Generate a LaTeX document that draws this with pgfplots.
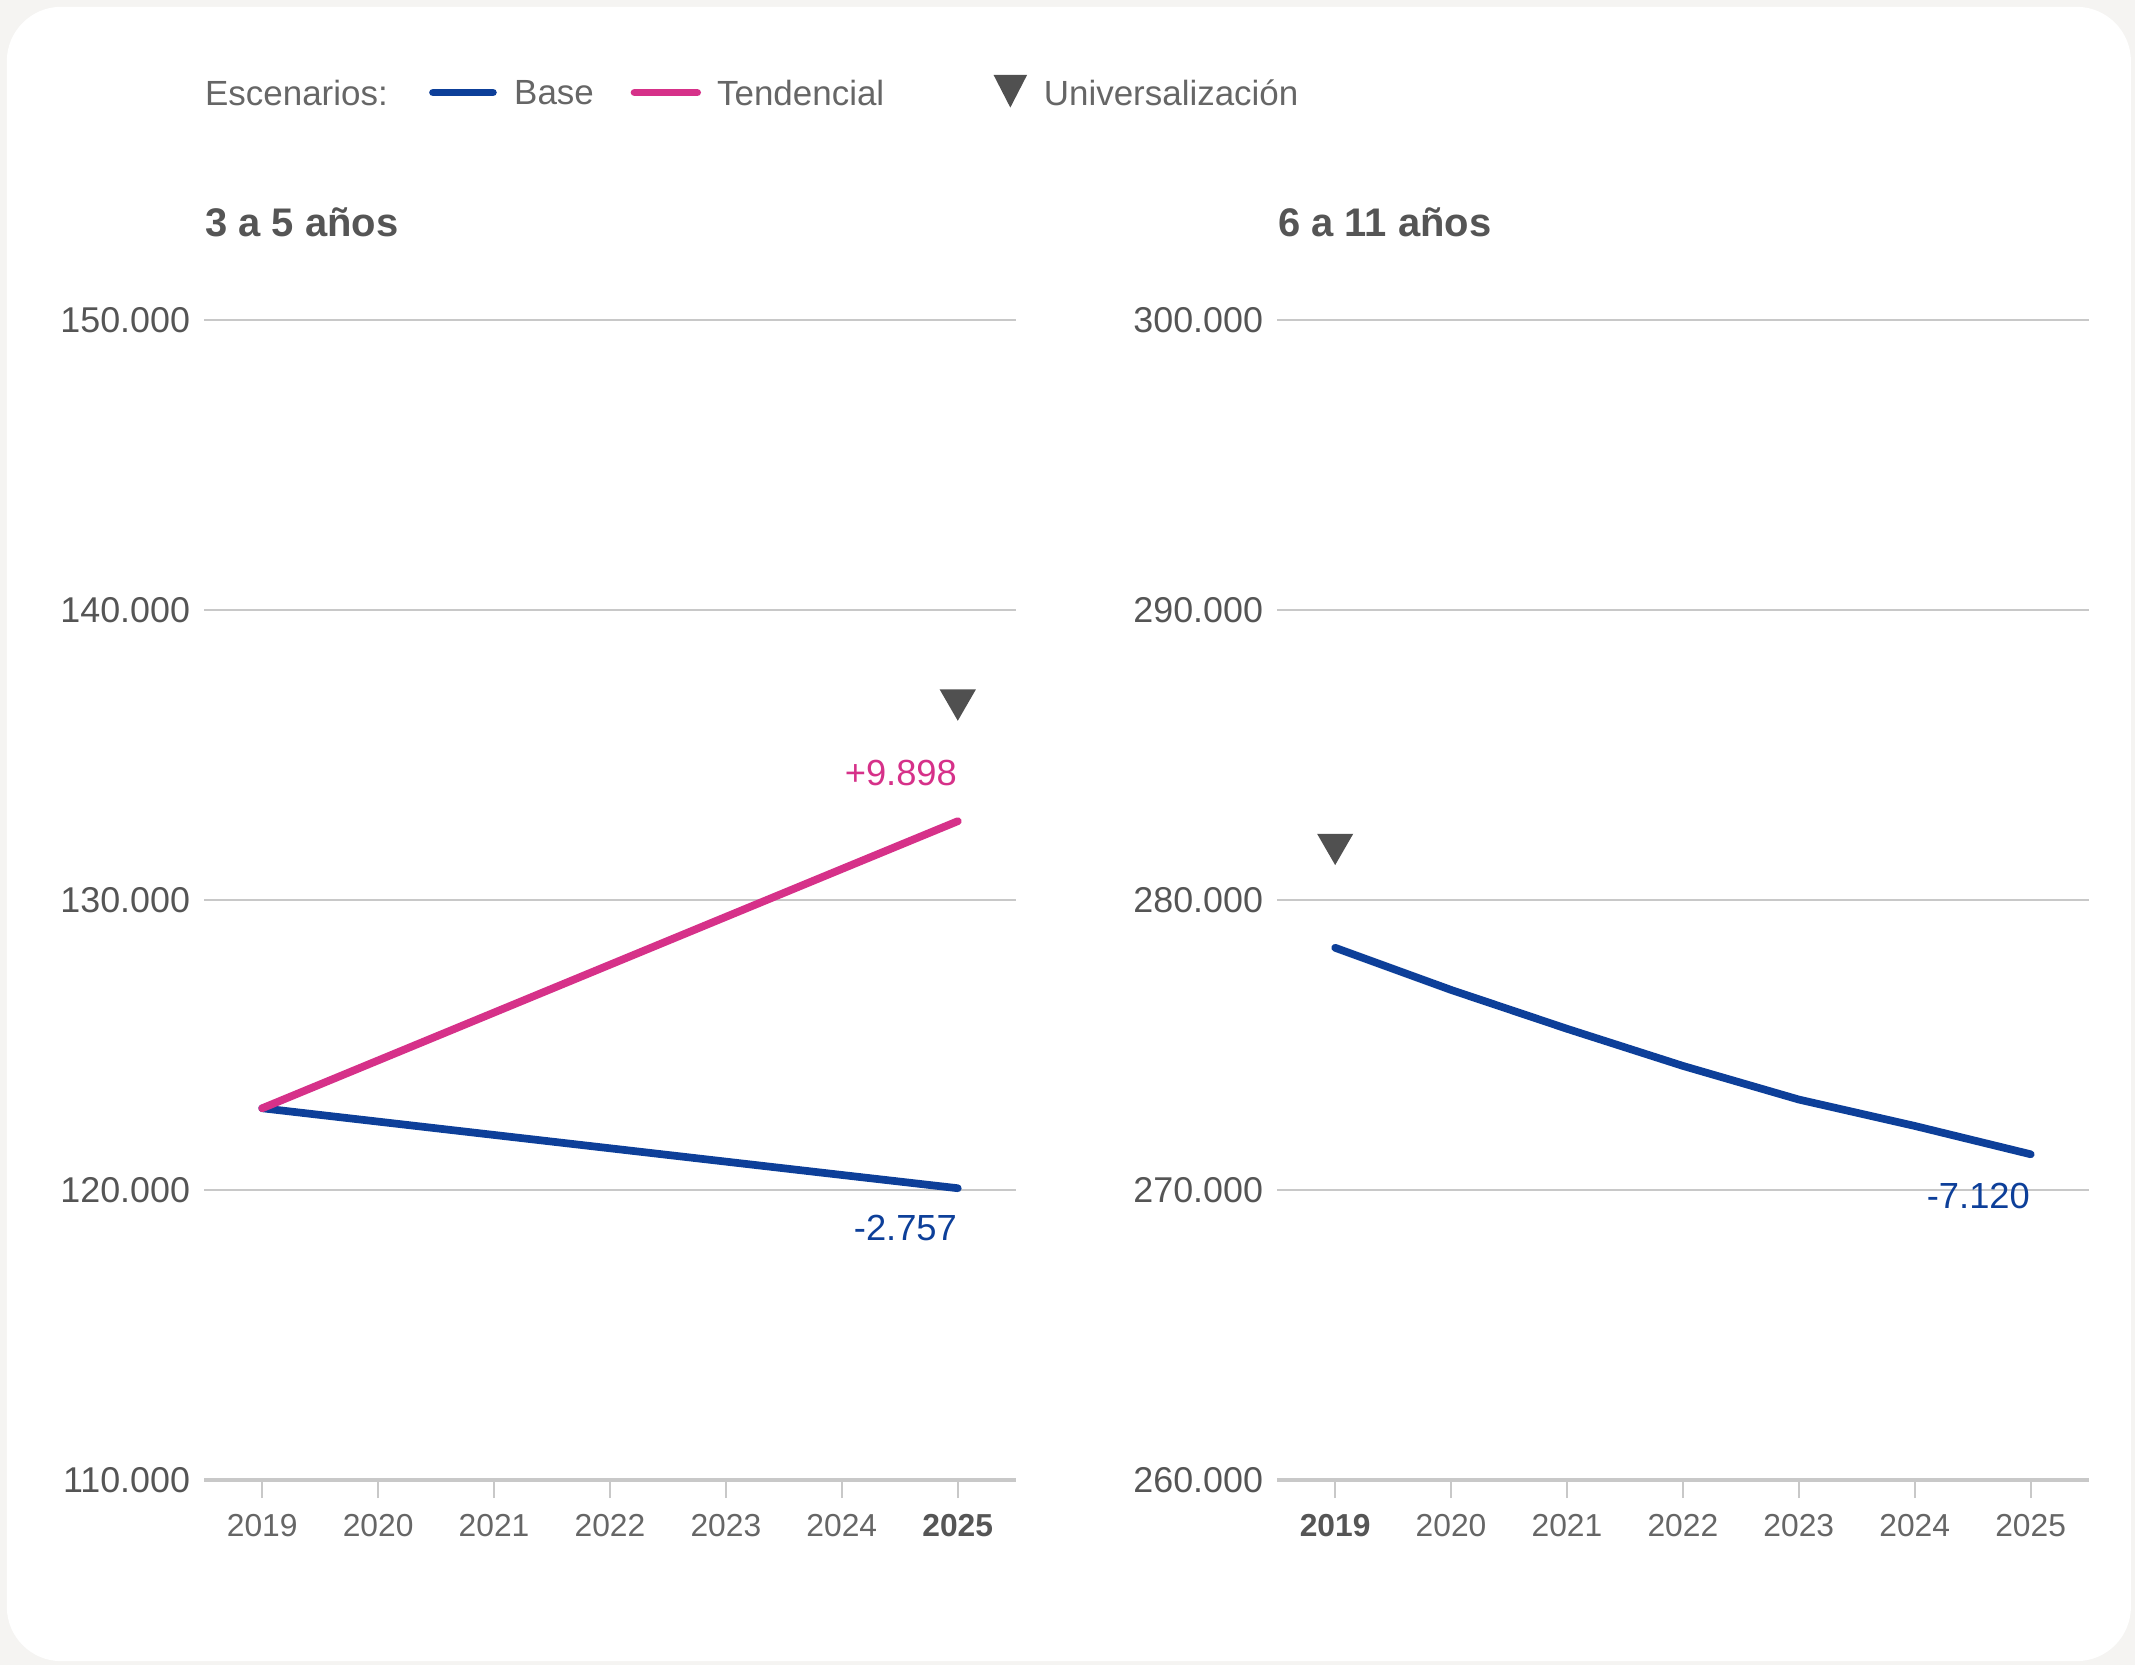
\documentclass[border=0pt]{standalone}
\usepackage{pgfplots}
\pgfplotsset{compat=1.18}
\usepackage{fontspec}
\setmainfont{Liberation Sans}

\definecolor{baseblue}{HTML}{0D3F99}
\definecolor{tendpink}{HTML}{D63189}
\definecolor{txtgray}{HTML}{555555}
\definecolor{lightgray}{HTML}{666666}
\definecolor{gridgray}{HTML}{C8C8C8}
\definecolor{markgray}{HTML}{505050}
\definecolor{bggray}{HTML}{F5F4F2}

\tikzset{
  base/.style={baseblue, line width=1.7pt, line cap=round, line join=round},
  tend/.style={tendpink, line width=1.7pt, line cap=round, line join=round},
}
\pgfplotsset{
  panel/.style={
    scale only axis, width=178.8pt, height=255.6pt, anchor=south west,
    xmin=2018.5, xmax=2025.5, xtick={2019,...,2025},
    axis x line*=bottom, axis y line*=left,
    y axis line style={draw=none}, ytick style={draw=none},
    x axis line style={gridgray, line width=0.7pt},
    xtick style={gridgray, line width=0.4pt},
    tick align=outside, major tick length=4pt,
    ymajorgrids, grid style={gridgray, line width=0.45pt},
    scaled y ticks=false,
    yticklabel style={font=\fontsize{7.9}{9}\selectfont, text=txtgray, xshift=4.4pt},
    xticklabel style={font=\fontsize{7}{8}\selectfont, text=lightgray},
    clip=false,
  },
  univ/.style={only marks, mark=triangle*, mark size=4.2pt, markgray,
    mark options={rotate=180, fill=markgray, draw=none}},
}

\begin{document}
\begin{tikzpicture}
\useasboundingbox (0,0) rectangle (470.4pt,366.9pt);
\fill[bggray] (0,0) rectangle (470.4pt,366.9pt);
\fill[white, rounded corners=12pt] (1.5pt,0.9pt) rectangle (469.5pt,365.4pt);

% legend
\begin{scope}[every node/.style={inner sep=0pt, anchor=west, text=lightgray, font=\fontsize{7.7}{9}\selectfont}]
  \node at (45pt,346.5pt) {Escenarios:};
  \draw[base] (95.4pt,346.5pt) -- (108.6pt,346.5pt);
  \node at (113.1pt,346.5pt) {Base};
  \draw[tend] (139.8pt,346.5pt) -- (153.6pt,346.5pt);
  \node at (157.8pt,346.5pt) {Tendencial};
  \fill[markgray] (218.9pt,350.4pt) -- (226.3pt,350.4pt) -- (222.6pt,343.2pt) -- cycle;
  \node at (229.8pt,346.5pt) {Universalización};
\end{scope}

% titles
\node[inner sep=0pt, anchor=west, text=txtgray, font=\fontsize{8.8}{11}\selectfont\bfseries] at (45pt,318pt) {3 a 5 años};
\node[inner sep=0pt, anchor=west, text=txtgray, font=\fontsize{8.8}{11}\selectfont\bfseries] at (281.4pt,318pt) {6 a 11 años};

% 3 a 5 años
\begin{axis}[panel, at={(45pt,40.8pt)},
  ymin=110000, ymax=150000, ytick={110000,120000,130000,140000,150000},
  yticklabels={110.000,120.000,130.000,140.000,150.000},
  xticklabels={2019,2020,2021,2022,2023,2024,\textbf{\textcolor{txtgray}{2025}}}]
  \addplot[base] coordinates {(2019,122820) (2020,122360) (2021,121900) (2022,121440) (2023,120980) (2024,120520) (2025,120063)};
  \addplot[tend] coordinates {(2019,122820) (2020,124470) (2021,126120) (2022,127770) (2023,129420) (2024,131070) (2025,132718)};
  \addplot[univ] coordinates {(2025,136900)};
  \node[inner sep=0pt, anchor=east, text=tendpink, font=\fontsize{8}{9}\selectfont] at (axis cs:2025,134366) {+9.898};
  \node[inner sep=0pt, anchor=east, text=baseblue, font=\fontsize{8}{9}\selectfont] at (axis cs:2025,118685) {-2.757};
\end{axis}

% 6 a 11 años
\begin{axis}[panel, at={(281.4pt,40.8pt)},
  ymin=260000, ymax=300000, ytick={260000,270000,280000,290000,300000},
  yticklabels={260.000,270.000,280.000,290.000,300.000},
  xticklabels={\textbf{\textcolor{txtgray}{2019}},2020,2021,2022,2023,2024,2025}]
  \addplot[base] coordinates {(2019,278353) (2020,276900) (2021,275560) (2022,274280) (2023,273120) (2024,272210) (2025,271233)};
  \addplot[univ] coordinates {(2019,281925)};
  \node[inner sep=0pt, anchor=east, text=baseblue, font=\fontsize{8}{9}\selectfont] at (axis cs:2025,269812) {-7.120};
\end{axis}
\end{tikzpicture}
\end{document}
